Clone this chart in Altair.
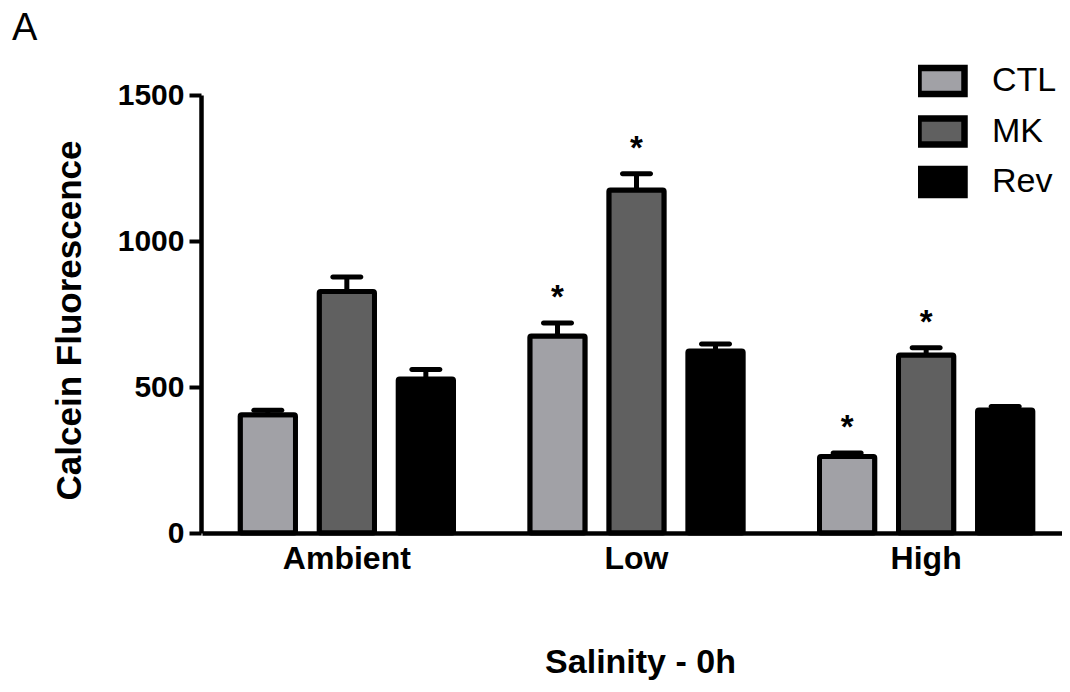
import altair as alt
import pandas as pd

salinity = ["Ambient", "Low", "High"]
groups = ["CTL", "MK", "Rev"]
colors = ["#a1a1a6", "#606060", "#000000"]

ctl_mean = [405, 675, 262]
ctl_err = [15, 44, 12]
mk_mean = [827, 1175, 610]
mk_err = [50, 55, 24]
rev_mean = [527, 623, 421]
rev_err = [33, 24, 12]
ctl_sig = [0, 1, 1]
mk_sig = [0, 1, 1]
rev_sig = [0, 0, 0]

panel_label = ["A"]

rows = []
for g, means, errs, sigs in [("CTL", ctl_mean, ctl_err, ctl_sig),
                             ("MK", mk_mean, mk_err, mk_sig),
                             ("Rev", rev_mean, rev_err, rev_sig)]:
    for s, m, e, sg in zip(salinity, means, errs, sigs):
        rows.append({"salinity": s, "group": g, "mean": m,
                     "top": m + e, "sig": sg})
df = pd.DataFrame(rows)

FONT = "Liberation Sans"

x_enc = alt.X("salinity:N", sort=salinity,
              scale=alt.Scale(paddingInner=0, paddingOuter=0, range=[1, 870]),
              axis=alt.Axis(title="Salinity - 0h", labelAngle=0,
                            ticks=False, tickSize=0, grid=False,
                            labelFontSize=32, labelFontWeight="bold",
                            labelFont=FONT, labelColor="black",
                            labelBaseline="alphabetic", labelPadding=35,
                            domainColor="black", domainWidth=4.5,
                            titleFontSize=34, titleFont=FONT,
                            titleFontWeight="bold", titleColor="black",
                            titleBaseline="alphabetic", titleX=439, titleY=139))
xo_enc = alt.XOffset("group:N", sort=groups,
                     scale=alt.Scale(paddingInner=0.30, paddingOuter=0.483))
y_scale = alt.Scale(domain=[0, 1500], nice=False)
y_axis = alt.Axis(title="Calcein Fluorescence", values=[0, 500, 1000, 1500],
                  format="d",
                  grid=False, tickSize=12, tickWidth=4, tickColor="black",
                  domainColor="black", domainWidth=4.5,
                  labelFontSize=30, labelFontWeight="bold", labelFont=FONT,
                  labelColor="black", labelPadding=5,
                  titleFontSize=35, titleFont=FONT, titleFontWeight="bold",
                  titleColor="black", titleX=-132, titleY=225,
                  titleBaseline="middle", titleAlign="center")

base = alt.Chart(df)

bars = base.mark_bar(stroke="black", strokeWidth=5, strokeJoin="round",
                     cornerRadius=1.5).encode(
    x=x_enc, xOffset=xo_enc,
    y=alt.Y("mean:Q", scale=y_scale, axis=y_axis),
    fill=alt.Fill("group:N", sort=groups,
                  scale=alt.Scale(domain=groups, range=colors),
                  legend=alt.Legend(title=None, orient="none", legendX=717, legendY=-37.25,
                                    symbolType="M-1.15,-0.65H1.15V0.65H-1.15Z",
                                    symbolSize=1600, symbolStrokeWidth=6.5,
                                    symbolStrokeColor="black", symbolOpacity=1,
                                    labelFontSize=34, labelFont=FONT,
                                    labelColor="black", labelOffset=27,
                                    clipHeight=46.5, rowPadding=3.5)),
)
err_rule = base.mark_rule(color="black", strokeWidth=5).encode(
    x=x_enc, xOffset=xo_enc,
    y=alt.Y("mean:Q", scale=y_scale, axis=y_axis),
    y2="top:Q",
)
err_cap = base.mark_tick(color="black", size=33, thickness=5,
                         cornerRadius=2.5, opacity=1).encode(
    x=x_enc, xOffset=xo_enc,
    y=alt.Y("top:Q", scale=y_scale, axis=y_axis),
)
stars = base.transform_filter("datum.sig == 1").mark_text(
    text="*", fontSize=33, fontWeight="bold", font=FONT, color="black",
    baseline="alphabetic", dy=-15).encode(
    x=x_enc, xOffset=xo_enc,
    y=alt.Y("top:Q", scale=y_scale, axis=y_axis),
)
label = alt.Chart(pd.DataFrame({"label": panel_label})).mark_text(
    fontSize=38, font=FONT, color="black", align="left",
    baseline="alphabetic").encode(
    text="label:N",
    x=alt.value(-189),
    y=alt.value(-55),
)

chart = alt.layer(bars, err_rule, err_cap, stars, label).properties(
    width=861, height=438,
    padding={"left": 193, "top": 87, "right": 0, "bottom": 150},
    autosize=alt.AutoSizeParams(type="none"),
).configure(background="white").configure_view(stroke=None).configure_axis(grid=False)

chart.save("out.html", embed_options={"renderer": "svg", "actions": False})
